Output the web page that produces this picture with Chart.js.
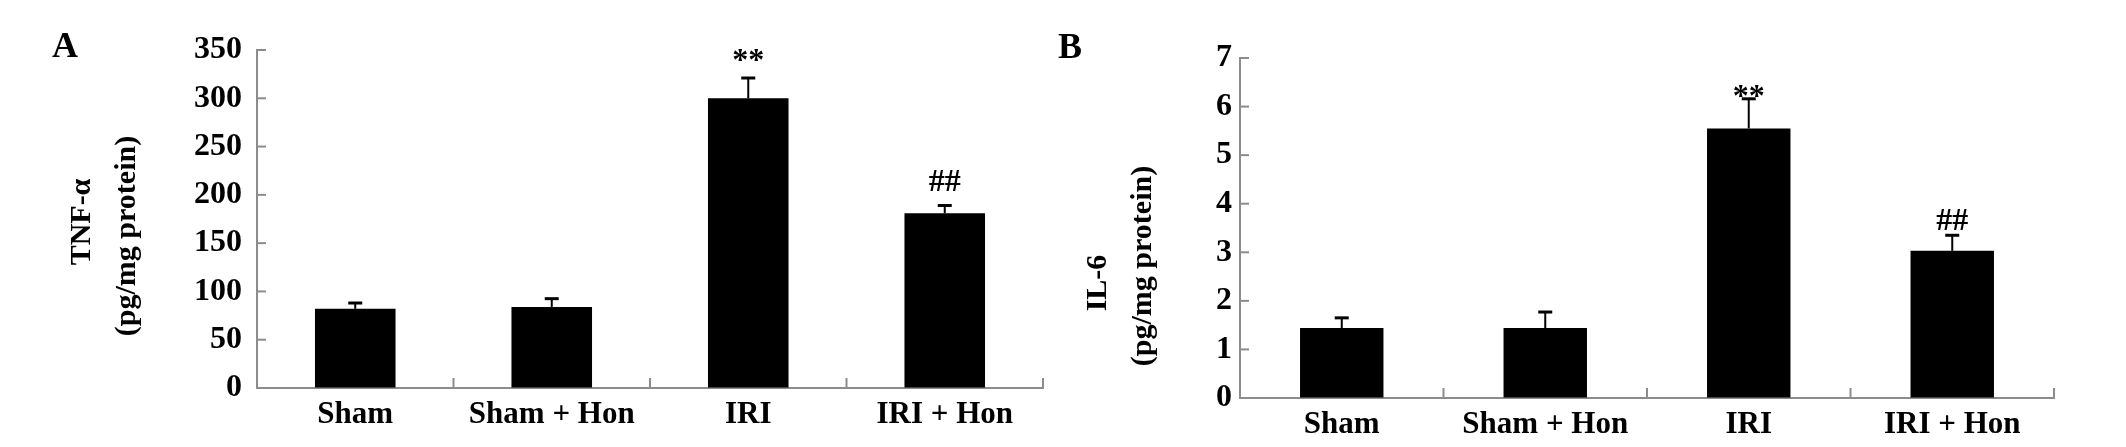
<!DOCTYPE html>
<html lang="en">
<head>
<meta charset="UTF-8">
<title>TNF-α and IL-6 levels</title>
<script src="https://cdn.jsdelivr.net/npm/chart.js"></script>
<style>
  body { margin: 0; background: #fff; }
  canvas { position: absolute; top: 0; }
</style>
</head>
<body>
<canvas id="chartA" width="1063" height="447" style="left:0"></canvas>
<canvas id="chartB" width="1086" height="447" style="left:1040px"></canvas>
<script>
// data
const groups = ['Sham', 'Sham + Hon', 'IRI', 'IRI + Hon'];
const tnfMean = [82, 84, 300, 181];
const tnfErr = [6, 8.5, 21, 8];
const il6Mean = [1.44, 1.44, 5.55, 3.03];
const il6Err = [0.21, 0.33, 0.61, 0.32];
const signif = ['', '', '**', '##'];
const tnfAxis = { min: 0, max: 350, step: 50 };
const il6Axis = { min: 0, max: 7, step: 1 };
const tnfTitle = ['TNF-α', '(pg/mg protein)'];
const il6Title = ['IL-6', '(pg/mg protein)'];

const serif = '"Liberation Serif", "Times New Roman", serif';
const axisGray = '#8c8c8c';

// inner tick marks, error bars, significance marks, axis title and panel letter
const panelDecor = {
  id: 'panelDecor',
  afterDatasetsDraw(chart, args, opts) {
    const { ctx, chartArea: a, scales: { x, y } } = chart;
    const values = chart.data.datasets[0].data;
    const bars = chart.getDatasetMeta(0).data;
    ctx.save();

    ctx.strokeStyle = axisGray;
    ctx.lineWidth = 2;
    y.ticks.forEach((t, i) => {
      const py = y.getPixelForTick(i);
      ctx.beginPath(); ctx.moveTo(a.left, py); ctx.lineTo(a.left + 9, py); ctx.stroke();
    });
    for (let i = 0; i <= values.length; i++) {
      const px = x.getPixelForValue(i - 0.5);
      ctx.beginPath(); ctx.moveTo(px, a.bottom); ctx.lineTo(px, a.bottom - 10); ctx.stroke();
    }

    ctx.strokeStyle = '#000';
    ctx.fillStyle = '#000';
    ctx.font = 'bold 32px ' + serif;
    ctx.textAlign = 'center';
    ctx.textBaseline = 'alphabetic';
    bars.forEach((bar, i) => {
      const top = y.getPixelForValue(values[i] + opts.errors[i]);
      ctx.lineWidth = 2;
      ctx.beginPath(); ctx.moveTo(bar.x, bar.y); ctx.lineTo(bar.x, top); ctx.stroke();
      ctx.lineWidth = 3;
      ctx.beginPath(); ctx.moveTo(bar.x - 7, top); ctx.lineTo(bar.x + 7, top); ctx.stroke();
      if (opts.marks[i]) ctx.fillText(opts.marks[i], bar.x, top - opts.lift[i]);
    });

    // y axis title, two rotated lines
    ctx.font = 'bold 30px ' + serif;
    ctx.textBaseline = 'middle';
    opts.title.forEach((line, i) => {
      const [tx, ty] = opts.titlePos[i];
      ctx.save();
      ctx.translate(tx, ty);
      ctx.rotate(-Math.PI / 2);
      ctx.fillText(line, 0, 0);
      ctx.restore();
    });

    ctx.font = 'bold 36px ' + serif;
    ctx.textAlign = 'left';
    ctx.textBaseline = 'alphabetic';
    ctx.fillText(opts.letter, opts.letterX, opts.letterY);
    ctx.restore();
  }
};

function makeChart(id, cfg) {
  return new Chart(document.getElementById(id), {
    type: 'bar',
    data: {
      labels: groups,
      datasets: [{
        data: cfg.values,
        backgroundColor: '#000',
        borderWidth: 0,
        barPercentage: 0.41,
        categoryPercentage: 1
      }]
    },
    options: {
      responsive: false,
      animation: false,
      layout: { padding: cfg.padding },
      plugins: {
        legend: { display: false },
        tooltip: { enabled: false },
        panelDecor: {
          errors: cfg.errors, marks: signif, lift: cfg.lift,
          title: cfg.title, titlePos: cfg.titlePos,
          letter: cfg.letter, letterX: cfg.letterX, letterY: cfg.letterY
        }
      },
      scales: {
        x: {
          grid: { drawOnChartArea: false, drawTicks: false },
          border: { display: true, color: axisGray, width: 2 },
          ticks: { color: '#000', padding: 8, font: { family: serif, size: 31, weight: 'bold' } },
          afterFit: s => { s.height = cfg.xHeight; }
        },
        y: {
          min: cfg.axis.min, max: cfg.axis.max,
          grid: { drawOnChartArea: false, drawTicks: false },
          border: { display: true, color: axisGray, width: 2 },
          ticks: {
            stepSize: cfg.axis.step, color: '#000', padding: cfg.tickPad,
            font: { family: serif, size: 32, weight: 'bold' }
          },
          afterFit: s => { s.width = cfg.yWidth; }
        }
      }
    },
    plugins: [panelDecor]
  });
}

makeChart('chartA', {
  values: tnfMean, errors: tnfErr, axis: tnfAxis,
  title: tnfTitle, titlePos: [[82, 222], [127, 236]],
  padding: { left: 60, right: 20, top: 50, bottom: 0 },
  yWidth: 197, xHeight: 59, tickPad: 15,
  lift: [0, 0, 8, 14],
  letter: 'A', letterX: 52, letterY: 57
});

makeChart('chartB', {
  values: il6Mean, errors: il6Err, axis: il6Axis,
  title: il6Title, titlePos: [[58, 283], [103, 266]],
  padding: { left: 35.5, right: 72, top: 58, bottom: 0 },
  yWidth: 164.5, xHeight: 49, tickPad: 8,
  lift: [0, 0, -7, 5],
  letter: 'B', letterX: 18, letterY: 58
});
</script>
</body>
</html>
